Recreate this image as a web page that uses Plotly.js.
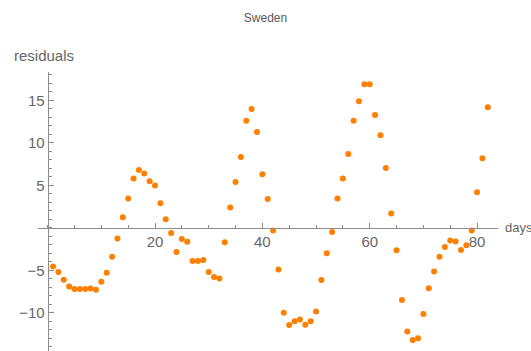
<!DOCTYPE html>
<html>
<head>
<meta charset="utf-8">
<script src="https://cdn.plot.ly/plotly-3.0.1.min.js"></script>
<style>html,body{margin:0;padding:0;background:#fff;}#chart{width:531px;height:351px;}</style>
</head>
<body>
<div id="chart"></div>
<script>
const days = [];
for (let d = 1; d <= 82; d++) days.push(d);
const residuals = [
  -4.55, -5.2, -6.1, -6.9, -7.2, -7.2, -7.2, -7.15, -7.3, -6.35,
  -5.3, -3.4, -1.25, 1.25, 3.45, 5.8, 6.8, 6.4, 5.5, 5.0,
  2.9, 1.0, -0.6, -2.85, -1.3, -1.65, -3.9, -3.9, -3.8, -5.2,
  -5.8, -5.95, -1.7, 2.4, 5.4, 8.35, 12.6, 14.0, 11.3, 6.3,
  3.4, -0.3, -4.9, -10.0, -11.45, -11.0, -10.8, -11.4, -11.0, -9.85,
  -6.15, -3.0, -0.5, 3.45, 5.8, 8.7, 12.6, 14.9, 16.9, 16.9,
  13.3, 10.9, 7.05, 1.7, -2.65, -8.5, -12.2, -13.2, -13.0, -10.15,
  -7.1, -5.15, -3.4, -2.25, -1.5, -1.6, -2.6, -2.05, -0.3, 4.2,
  8.2, 14.2
];
const xTicks = [20, 40, 60, 80];
const yTicks = [-10, -5, 5, 10, 15];
const xRange = [-1.8, 83.9];
const yRange = [-14.5, 18.35];

const axisColor = '#8c8c8c';
const labelColor = '#666666';
const fontFam = 'Liberation Sans, Arial, sans-serif';

const trace = {
  x: days, y: residuals, type: 'scatter', mode: 'markers',
  marker: {color: 'rgb(255,128,0)', size: 6},
  cliponaxis: false, hoverinfo: 'skip'
};

const layout = {
  width: 531, height: 351,
  margin: {l: 38, r: 33, t: 72, b: 0},
  paper_bgcolor: '#fff', plot_bgcolor: '#fff',
  showlegend: false,
  font: {family: fontFam, color: labelColor},
  title: {text: 'Sweden', font: {size: 12, color: '#5a5a5a', family: fontFam},
          xref: 'container', x: 0.5, xanchor: 'center', yref: 'container', y: 1 - 18/351, yanchor: 'middle'},
  xaxis: {
    range: xRange, showgrid: false, zeroline: false,
    showline: true, linecolor: axisColor, linewidth: 1,
    anchor: 'free', position: (0 - yRange[0]) / (yRange[1] - yRange[0]),
    tickmode: 'array', tickvals: xTicks,
    ticks: 'inside', ticklen: 5, tickcolor: axisColor,
    tickfont: {size: 15, color: labelColor},
    minor: {tickmode: 'linear', tick0: 0, dtick: 5, ticks: 'inside', ticklen: 3, tickcolor: axisColor, showgrid: false}
  },
  yaxis: {
    range: yRange, showgrid: false, zeroline: false,
    showline: true, linecolor: axisColor, linewidth: 1,
    anchor: 'free', position: (0 - xRange[0]) / (xRange[1] - xRange[0]),
    tickmode: 'array', tickvals: yTicks,
    ticks: 'inside', ticklen: 5, tickcolor: axisColor,
    tickfont: {size: 15, color: labelColor},
    minor: {tickmode: 'linear', tick0: 0, dtick: 1, ticks: 'inside', ticklen: 3, tickcolor: axisColor, showgrid: false}
  },
  annotations: [
    {text: 'residuals', xref: 'paper', yref: 'paper', x: (12 - 38) / 460, y: (351 - 56 - 0) / 279,
     xanchor: 'left', yanchor: 'middle', showarrow: false, font: {size: 15, color: labelColor}},
    {text: 'days', xref: 'paper', yref: 'y', x: (503 - 38) / 460, y: 0,
     xanchor: 'left', yanchor: 'middle', showarrow: false, font: {size: 13, color: labelColor}}
  ]
};

Plotly.newPlot('chart', [trace], layout, {staticPlot: true, displayModeBar: false});
</script>
</body>
</html>
